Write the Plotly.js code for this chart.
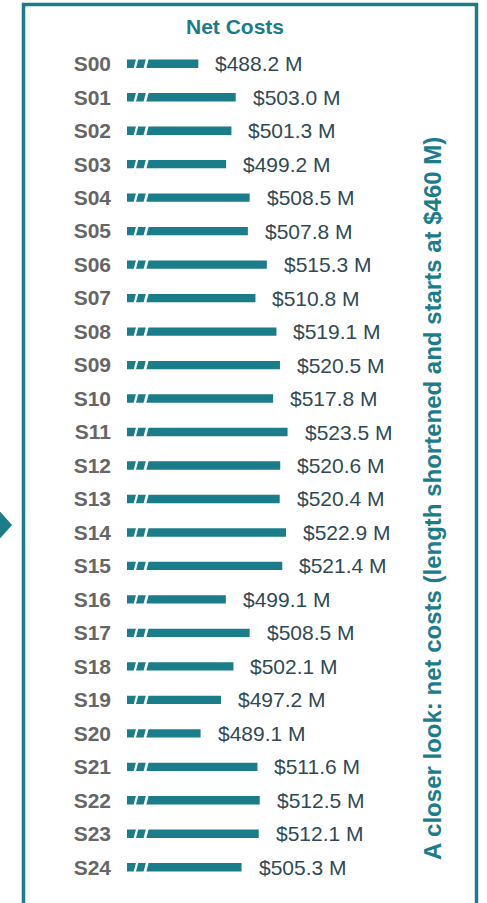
<!DOCTYPE html>
<html>
<head>
<meta charset="utf-8">
<script src="https://cdn.plot.ly/plotly-3.0.1.min.js"></script>
<style>html,body{margin:0;padding:0;background:#fff;}#chart{width:487px;height:903px;}</style>
</head>
<body>
<div id="chart"></div>
<script>
const categories = ["S00","S01","S02","S03","S04","S05","S06","S07","S08","S09","S10","S11","S12","S13","S14","S15","S16","S17","S18","S19","S20","S21","S22","S23","S24"];
const netCosts = [488.2,503.0,501.3,499.2,508.5,507.8,515.3,510.8,519.1,520.5,517.8,523.5,520.6,520.4,522.9,521.4,499.1,508.5,502.1,497.2,489.1,511.6,512.5,512.1,505.3];
const axisStart = 460;
const chartTitle = "Net Costs";
const sideNote = "A closer look: net costs (length shortened and starts at $460 M)";

const W = 487, H = 903;
const M = {l: 127, r: 6, t: 47, b: 19};
const PW = W - M.l - M.r, PH = H - M.t - M.b;
const xMax = 600;
const px = x => (x - M.l) / PW;          // pixel -> paper x
const py = y => (H - M.b - y) / PH;      // pixel -> paper y

const TEAL = "#1b7d8a";
const FONT = "Liberation Sans, Arial, Helvetica, sans-serif";
const idx = categories.map((c, i) => i);

const trace = {
  type: "bar", orientation: "h",
  x: netCosts.map(v => v - axisStart), base: axisStart, y: idx,
  marker: {color: TEAL}, width: 0.25, hoverinfo: "skip"
};

// white slanted gaps to show a broken (shortened) bar
const shapes = [];
const gapDefs = [[2.4, 0.9], [6.3, 1.1]]; // [offset from start (data units), width]
idx.forEach(i => {
  gapDefs.forEach(([o, w]) => {
    const x0 = axisStart + o, s = 1.4;
    const yb = i + 0.2, yt = i - 0.2;
    shapes.push({type: "path", xref: "x", yref: "y", layer: "above",
      path: `M ${x0} ${yb} L ${x0 + w} ${yb} L ${x0 + w + s} ${yt} L ${x0 + s} ${yt} Z`,
      fillcolor: "#ffffff", line: {width: 0}});
  });
});
// frame
shapes.push({type: "rect", xref: "paper", yref: "paper",
  x0: px(23.5), x1: px(476.5), y0: py(H + 20), y1: py(4.5),
  line: {color: TEAL, width: 3.5}, fillcolor: "rgba(0,0,0,0)"});
// left arrow
shapes.push({type: "path", xref: "paper", yref: "paper",
  path: `M ${px(-4)} ${py(507)} L ${px(12)} ${py(525)} L ${px(-4)} ${py(543)} Z`,
  fillcolor: TEAL, line: {width: 0}});

const annotations = netCosts.map((v, i) => ({
  x: v, y: i, xref: "x", yref: "y", xanchor: "left", yanchor: "middle",
  xshift: 15, showarrow: false, text: "$" + v.toFixed(1) + " M",
  font: {family: FONT, size: 21, color: "#2f4a55"}
}));
annotations.push({x: px(234.5), y: py(27), xref: "paper", yref: "paper",
  xanchor: "center", yanchor: "middle", showarrow: false,
  text: "<b>" + chartTitle + "</b>", font: {family: FONT, size: 21, color: TEAL}});
annotations.push({x: px(432), y: py(499), xref: "paper", yref: "paper",
  xanchor: "center", yanchor: "middle", showarrow: false, textangle: -90,
  text: "<b>" + sideNote + "</b>", font: {family: FONT, size: 24, color: TEAL}});

const layout = {
  width: W, height: H, margin: M, showlegend: false,
  paper_bgcolor: "#ffffff", plot_bgcolor: "#ffffff",
  xaxis: {range: [axisStart, xMax], visible: false, fixedrange: true},
  yaxis: {range: [categories.length - 0.5, -0.5], tickmode: "array", tickvals: idx,
    ticktext: categories.map(c => "<b>" + c + "</b>"), ticks: "", showgrid: false,
    zeroline: false, showline: false, ticklabelstandoff: 15,
    tickfont: {family: FONT, size: 21, color: "#666666"}},
  shapes: shapes, annotations: annotations
};
Plotly.newPlot("chart", [trace], layout, {displayModeBar: false, staticPlot: true});
</script>
</body>
</html>
